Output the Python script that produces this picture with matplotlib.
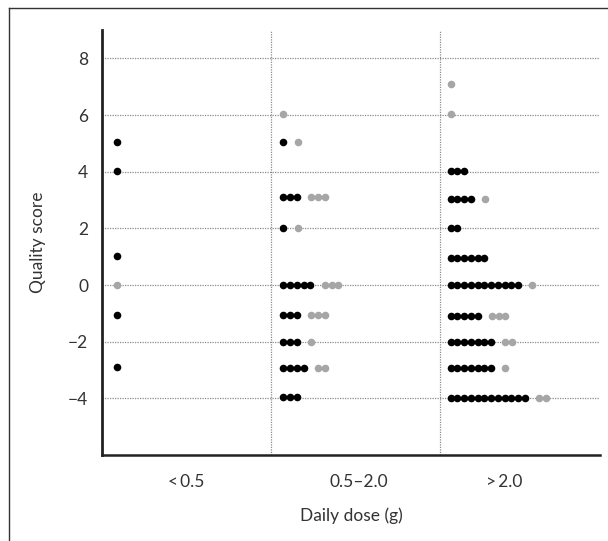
import matplotlib
matplotlib.use("Agg")
import matplotlib.pyplot as plt
from matplotlib.lines import Line2D

plt.rcParams['font.family'] = ['Lato', 'DejaVu Sans']

# categories on the x axis
categories = ['<\u20090.5', '0.5\u20132.0', '>\u20092.0']

# rows per category: quality score, number of black dots, number of grey dots
low_y     = [5.04, 4.01, 1.03, 0.0, -1.07, -2.9]
low_black = [1, 1, 1, 0, 1, 1]
low_grey  = [0, 0, 0, 1, 0, 0]

mid_y     = [6.02, 5.03, 3.1, 2.02, 0.0, -1.07, -2.0, -2.93, -3.94]
mid_black = [0, 1, 3, 1, 5, 3, 3, 4, 3]
mid_grey  = [1, 1, 3, 1, 3, 3, 1, 2, 0]

high_y     = [7.1, 6.02, 4.01, 3.05, 2.0, 0.95, 0.0, -1.08, -2.0, -2.93, -4.0]
high_black = [0, 0, 3, 4, 2, 6, 11, 5, 7, 7, 12]
high_grey  = [1, 1, 0, 1, 0, 0, 1, 3, 2, 1, 2]

groups = [(low_y, low_black, low_grey),
          (mid_y, mid_black, mid_grey),
          (high_y, high_black, high_grey)]

yticks = [-4, -2, 0, 2, 4, 6, 8]

# layout of the dot rows (data units along x)
start = [0.09, 0.075, 0.065]
step = 0.04
gap = 0.045

fig = plt.figure(figsize=(6.08, 5.41), dpi=100)
ax = fig.add_axes([102/608, 1-455/541, 498/608, 425/541])

for gi, (ys, nb, ng) in enumerate(groups):
    bx, by, gx, gy = [], [], [], []
    for y, b, g in zip(ys, nb, ng):
        x0 = gi + start[gi]
        for k in range(b):
            bx.append(x0 + k*step); by.append(y)
        x1 = x0 + b*step + (gap if b else 0)
        for k in range(g):
            gx.append(x1 + k*step); gy.append(y)
    ax.scatter(bx, by, s=30, color='black', zorder=3, linewidths=0)
    ax.scatter(gx, gy, s=30, color='#a6a6a6', zorder=3, linewidths=0)

ax.set_xlim(0, 2.95)
ax.set_ylim(-6, 9)
ax.set_yticks(yticks)
ax.set_yticklabels([str(v).replace('-', '\u2212') for v in yticks])
ax.set_xticks([0.5, 1.52, 2.38])
ax.set_xticklabels(categories)
ax.tick_params(length=0, labelsize=12.5, colors='#333333', pad=10)
ax.tick_params(axis='x', pad=14)

for y in yticks:
    ax.axhline(y, color='#8c8c8c', lw=0.9, ls=(0, (1, 1)), zorder=1)
for x in [1, 2]:
    ax.axvline(x, color='#8c8c8c', lw=0.9, ls=(0, (1, 1)), zorder=1)

for s in ['top', 'right']:
    ax.spines[s].set_visible(False)
ax.spines['left'].set_linewidth(2)
ax.spines['bottom'].set_linewidth(1.8)
ax.spines['left'].set_color('#222222')
ax.spines['bottom'].set_color('#222222')

ax.set_ylabel('Quality score', fontsize=12.5, color='#333333', labelpad=16)
ax.set_xlabel('Daily dose (g)', fontsize=12.5, color='#333333', labelpad=12)

# outer frame
fig.add_artist(Line2D([9/608, 1], [1-8/541, 1-8/541], color='#333333', lw=1))
fig.add_artist(Line2D([9/608, 9/608], [0, 1-8/541], color='#333333', lw=1))

fig.savefig('out.png', dpi=100)
